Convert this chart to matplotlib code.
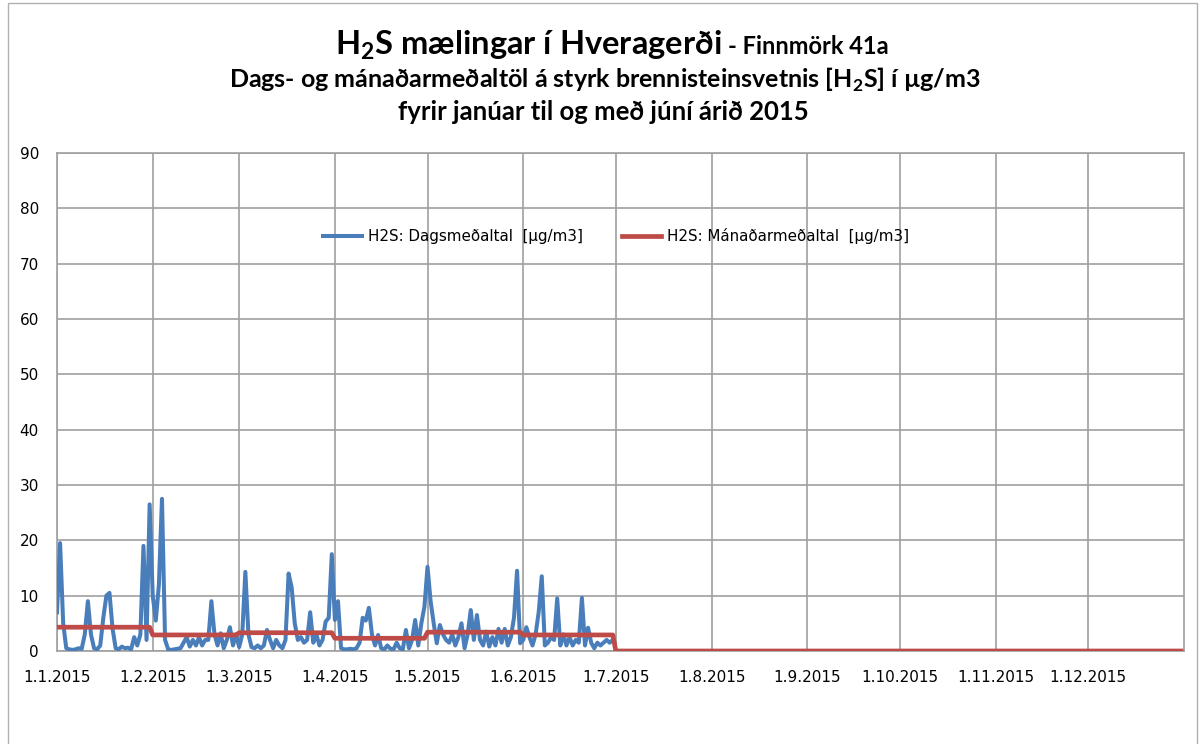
import matplotlib
matplotlib.use("Agg")
import matplotlib.pyplot as plt
import pandas as pd
from matplotlib.patches import Rectangle
from matplotlib.ticker import FuncFormatter

plt.rcParams['font.family'] = ['DejaVu Sans']
plt.rcParams['mathtext.fontset'] = 'custom'
plt.rcParams['mathtext.rm'] = 'Lato'
plt.rcParams['mathtext.bf'] = 'Lato:bold'

# Daily averages H2S [ug/m3]
jan = [7, 19.5, 5, 0.5, 0.3, 0.2, 0.3, 0.5, 0.4, 3, 9, 3, 0.5, 0.3, 1, 6,
       10, 10.5, 4, 0.5, 0.3, 0.8, 0.5, 0.6, 0.3, 2.5, 1, 3, 19, 2, 26.5]
feb = [10, 5.5, 12, 27.5, 2, 0.3, 0.2, 0.3, 0.4, 0.5, 1.5, 2.5, 0.8, 2,
       1, 2.5, 1, 2, 2, 9, 3, 1, 3.2, 0.5, 2, 4.3, 1, 3]
mar = [0.7, 3, 14.3, 3, 0.7, 0.5, 1, 0.5, 1, 3.8, 2, 0.5, 2, 1, 0.5, 2,
       14, 11.5, 5, 2, 2.5, 1.5, 2, 7, 1.5, 3, 1, 2, 5.3, 6, 17.5]
apr = [5.6, 9, 0.5, 0.3, 0.3, 0.4, 0.3, 0.5, 1.5, 6, 5.5, 7.8, 3, 1, 2.9,
       0.5, 0.3, 1, 0.4, 0.3, 1.5, 0.5, 0.3, 3.8, 0.5, 2, 5.6, 1, 5, 8]
may = [15.2, 9, 5, 1.4, 4.7, 3, 2, 1.5, 3, 1, 2.5, 5, 0.5, 3, 7.4, 2,
       6.5, 2, 1, 3.5, 0.8, 2.5, 1, 4, 1.5, 4, 1, 2.5, 6, 14.5, 1.4]
jun = [2, 4.3, 2.5, 1, 3, 7, 13.5, 1, 1.5, 2.5, 2, 9.5, 1, 3, 1, 2.5, 1,
       2, 1.5, 9.6, 1, 4.2, 1.5, 0.5, 1.5, 1, 1.5, 2, 1.5, 2]

# Monthly averages, Jan..Dec
monthly_means = [4.3, 2.9, 3.3, 2.3, 3.4, 2.9, 0, 0, 0, 0, 0, 0]

daily = jan + feb + mar + apr + may + jun
daily_dates = pd.date_range('2015-01-01', periods=len(daily), freq='D')
all_dates = pd.date_range('2015-01-01', '2015-12-31', freq='D')
monthly_line = [monthly_means[d.month - 1] for d in all_dates]

fig = plt.figure(figsize=(12, 7.44), dpi=100)
ax = fig.add_axes([57 / 1200, 1 - 651 / 744, (1184 - 57) / 1200, 498 / 744])

ax.plot(daily_dates, daily, color='#4A7EBB', lw=2.9,
        label='H2S: Dagsmeðaltal  [µg/m3]', zorder=3)
ax.plot(all_dates, monthly_line, color='#BE4B48', lw=3.4,
        label='H2S: Mánaðarmeðaltal  [µg/m3]', zorder=4)

ax.set_xlim(pd.Timestamp('2015-01-01'), pd.Timestamp('2016-01-01'))
ax.set_ylim(0, 90)
ax.set_yticks(range(0, 91, 10))
ax.set_xticks(pd.date_range('2015-01-01', '2015-12-01', freq='MS'))
ax.xaxis.set_major_formatter(FuncFormatter(
    lambda v, p: (lambda d: f"{d.day}.{d.month}.{d.year}")(
        matplotlib.dates.num2date(v))))
ax.grid(True, color='#a0a0a0', lw=1.2)
ax.set_axisbelow(True)
for s in ax.spines.values():
    s.set_color('#a0a0a0')
    s.set_linewidth(1.2)
ax.tick_params(axis='both', length=0, labelsize=11)
ax.tick_params(axis='x', pad=14)
ax.tick_params(axis='y', pad=13)

ax.legend(loc='center', bbox_to_anchor=(0.496, 0.833), ncol=2, frameon=False,
          fontsize=10.9, handlelength=2.6, columnspacing=2.6, handletextpad=0.35)

# Titles
fig.text(722 / 1200, 1 - 45 / 744, r'H$_{\mathbf{2}}$S mælingar í Hveragerði',
         ha='right', va='center', family='Lato', weight='bold', fontsize=23.5)
fig.text(728 / 1200, 1 - 47 / 744, '- Finnmörk 41a', ha='left', va='center',
         family='Lato', weight='bold', fontsize=17)
fig.text(605 / 1200, 1 - 80 / 744,
         r'Dags- og mánaðarmeðaltöl á styrk brennisteinsvetnis [H$_{\mathbf{2}}$S] í µg/m3',
         ha='center', va='center', family='Lato', weight='bold', fontsize=18)
fig.text(603 / 1200, 1 - 112 / 744, 'fyrir janúar til og með júní árið 2015',
         ha='center', va='center', family='Lato', weight='bold', fontsize=18.5)

# chart area border
fig.patches.append(Rectangle((8 / 1200, -0.1), 1189 / 1200, 1.1 - 3 / 744,
                             transform=fig.transFigure, fill=False,
                             edgecolor='#b0b0b0', lw=1))

fig.savefig('out.png', dpi=100)
